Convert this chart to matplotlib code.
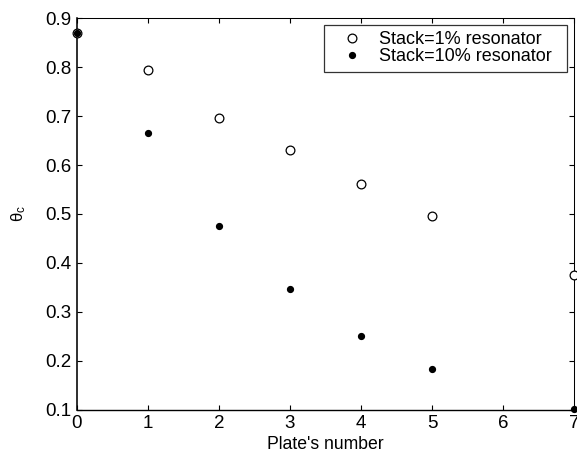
import matplotlib
matplotlib.use("Agg")
import matplotlib.pyplot as plt

plt.rcParams['font.family'] = ['Liberation Sans', 'DejaVu Sans']
plt.rcParams['mathtext.fontset'] = 'custom'
plt.rcParams['mathtext.rm'] = 'Liberation Sans'
plt.rcParams['mathtext.it'] = 'Liberation Sans'

# data
plates = [0, 1, 2, 3, 4, 5, 7]
stack_1 = [0.869, 0.794, 0.696, 0.631, 0.561, 0.495, 0.376]
stack_10 = [0.869, 0.666, 0.475, 0.346, 0.250, 0.182, 0.102]
xticks = [0, 1, 2, 3, 4, 5, 6, 7]
yticks = [0.1, 0.2, 0.3, 0.4, 0.5, 0.6, 0.7, 0.8, 0.9]

fig = plt.figure(figsize=(5.77, 4.59), dpi=100)
ax = fig.add_axes([0.1334, 0.1078, 0.8614, 0.8523])

ax.plot(plates, stack_1, linestyle='none', marker='o', markersize=6.3,
        markerfacecolor='white', markeredgecolor='black', markeredgewidth=0.9,
        clip_on=False, label='Stack=1% resonator', zorder=3)
ax.plot(plates, stack_10, linestyle='none', marker='o', markersize=4.2,
        markerfacecolor='black', markeredgecolor='black',
        clip_on=False, label='Stack=10% resonator', zorder=4)

ax.set_xlim(0, 7)
ax.set_ylim(0.1, 0.9)
ax.set_xticks(xticks)
ax.set_yticks(yticks)
ax.set_xticklabels([str(t) for t in xticks])
ax.set_yticklabels(['%.1f' % t for t in yticks])
ax.tick_params(direction='in', top=True, right=True, length=3.6, width=0.8,
               labelsize=13.5, colors='black', pad=4)
ax.spines['left'].set_linewidth(1.15)
ax.spines['bottom'].set_linewidth(1.0)
ax.spines['top'].set_linewidth(0.75)
ax.spines['right'].set_linewidth(0.75)

ax.set_xlabel("Plate's number", fontsize=12.7, labelpad=3)
ax.set_ylabel(r'$\theta_c$', fontsize=12, labelpad=12)

leg = ax.legend(loc='upper left', bbox_to_anchor=(0.497, 0.863, 0.489, 0.12),
                mode='expand', fontsize=13,
                frameon=True, fancybox=False, edgecolor='black',
                borderpad=0.36, handletextpad=0.3, handlelength=2.4,
                labelspacing=0.0, borderaxespad=0.0)
leg.get_frame().set_linewidth(0.9)

fig.savefig('out.png', dpi=100)
